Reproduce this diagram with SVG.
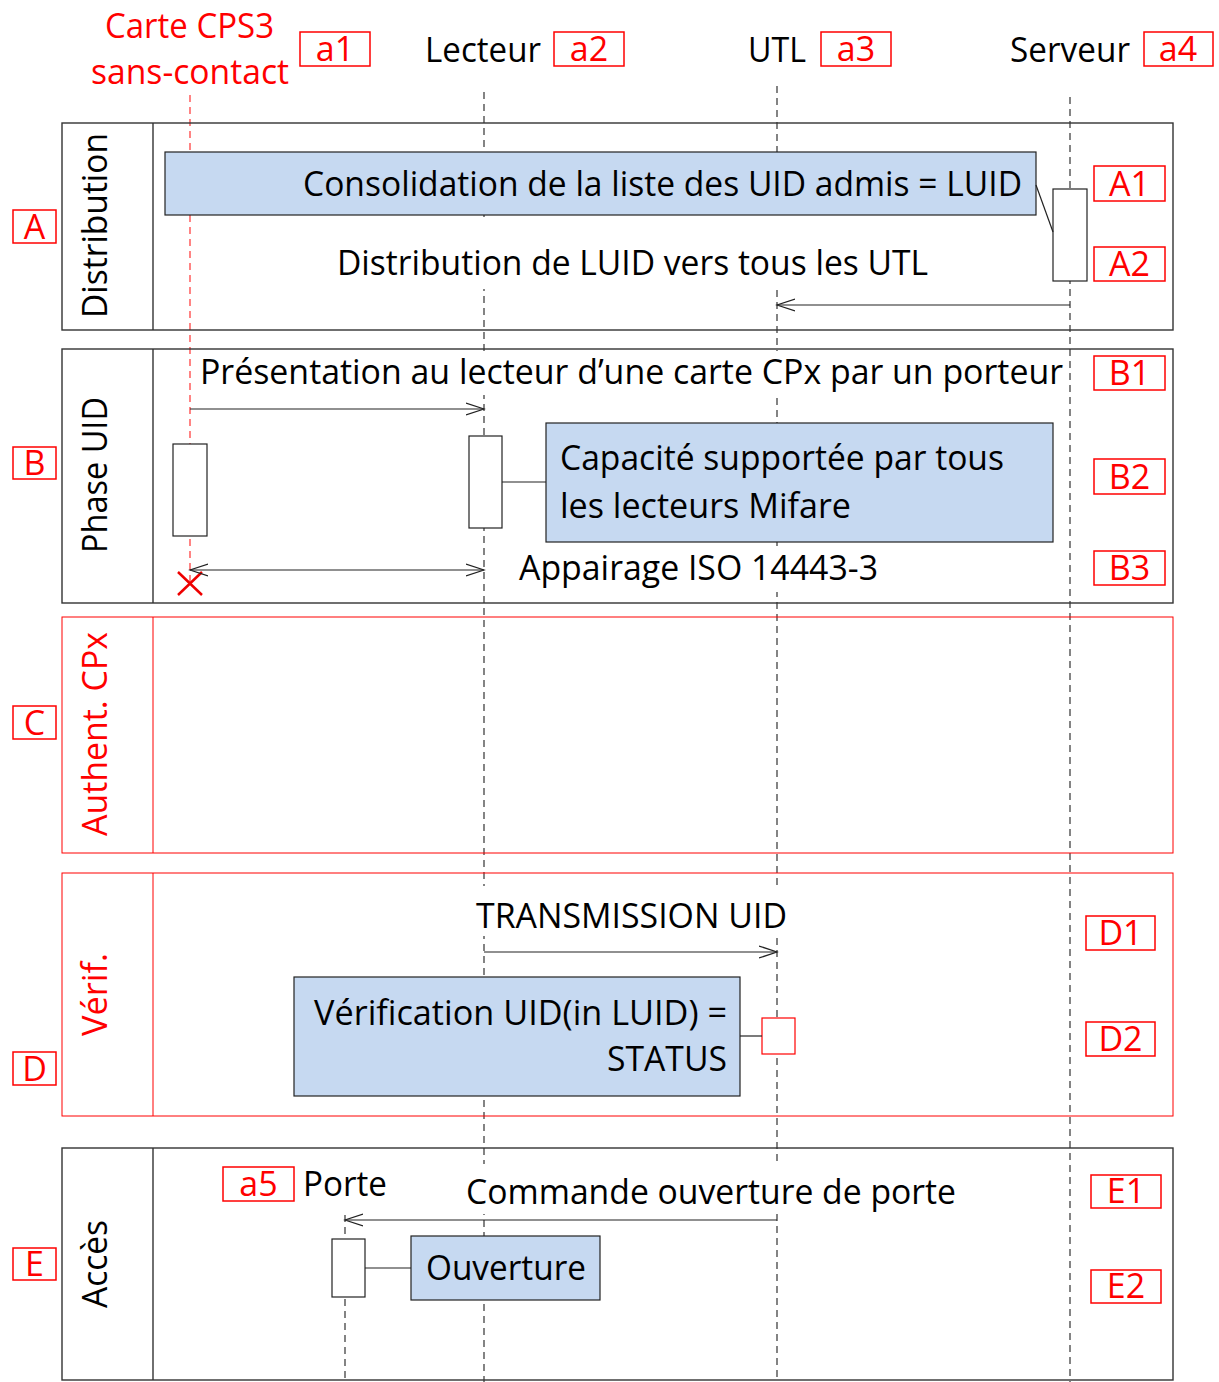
<svg xmlns="http://www.w3.org/2000/svg" width="1219" height="1382" viewBox="0 0 1219 1382">
<defs>
<style>
.t{font-family:"Open Sans","Liberation Sans",sans-serif;font-size:34px;fill:#000}
.r{fill:#f00}
.bg{fill:#fff;stroke:none}
.lb{fill:none;stroke:#f00;stroke-width:1.5}
.fr{fill:none;stroke:#333;stroke-width:1.4}
.frr{fill:none;stroke:#f00;stroke-width:1}
.ll{stroke:#333;stroke-dasharray:7 5;stroke-width:1.2;fill:none}
.llr{stroke:#f33;stroke-dasharray:7 5;stroke-width:1.2;fill:none}
.act{fill:#fff;stroke:#222;stroke-width:1.2}
.blue{fill:#c6d9f1;stroke:#222;stroke-width:1.2}
.msg{stroke:#222;stroke-width:1.2;fill:none}
</style>
<marker id="ah" markerUnits="userSpaceOnUse" markerWidth="20" markerHeight="14" refX="18" refY="7" orient="auto-start-reverse">
<path d="M0,1 L18,7 L0,13" fill="none" stroke="#222" stroke-width="1.2"/>
</marker>
</defs>
<rect width="1219" height="1382" fill="#fff"/>

<g id="lifelines">
<line class="llr" x1="190" y1="95" x2="190" y2="583"/>
<line class="ll" x1="484" y1="92" x2="484" y2="1382"/>
<line class="ll" x1="777" y1="86" x2="777" y2="1382"/>
<line class="ll" x1="1070" y1="97" x2="1070" y2="1382"/>
<line class="ll" x1="345" y1="1215" x2="345" y2="1382"/>
</g>

<g id="header">
<text class="t r" x="105" y="38" textLength="169" lengthAdjust="spacingAndGlyphs">Carte CPS3</text>
<text class="t r" x="91" y="84" textLength="198" lengthAdjust="spacingAndGlyphs">sans-contact</text>
<rect class="lb" x="300" y="32" width="70" height="34"/>
<text class="t r" x="335" y="61" text-anchor="middle">a1</text>
<text class="t" x="425" y="62" textLength="116" lengthAdjust="spacingAndGlyphs">Lecteur</text>
<rect class="lb" x="554" y="32" width="70" height="34"/>
<text class="t r" x="589" y="61" text-anchor="middle">a2</text>
<text class="t" x="748" y="62" textLength="58" lengthAdjust="spacingAndGlyphs">UTL</text>
<rect class="lb" x="821" y="32" width="70" height="34"/>
<text class="t r" x="856" y="61" text-anchor="middle">a3</text>
<text class="t" x="1010" y="62" textLength="120" lengthAdjust="spacingAndGlyphs">Serveur</text>
<rect class="lb" x="1144" y="32" width="69" height="34"/>
<text class="t r" x="1178" y="61" text-anchor="middle">a4</text>
</g>

<g id="frameA">
<rect class="fr" x="62" y="123" width="1111" height="207"/>
<line class="fr" x1="153" y1="123" x2="153" y2="330"/>
<text class="t" transform="translate(107,318) rotate(-90)" textLength="185" lengthAdjust="spacingAndGlyphs">Distribution</text>
<rect class="lb" x="13" y="210" width="43" height="33"/>
<text class="t r" x="34.5" y="239" text-anchor="middle">A</text>
<rect class="lb" x="1094" y="166" width="71" height="35"/>
<text class="t r" x="1129.5" y="196" text-anchor="middle">A1</text>
<rect class="lb" x="1094" y="247" width="71" height="34"/>
<text class="t r" x="1129.5" y="276" text-anchor="middle">A2</text>
</g>
<g id="nodeA-consolidation">
<rect class="blue" x="165" y="152" width="871" height="63"/>
<text class="t" x="303" y="196" textLength="719" lengthAdjust="spacingAndGlyphs">Consolidation de la liste des UID admis = LUID</text>
</g>
<g id="nodeA-act">
<rect class="act" x="1053" y="189" width="34" height="92"/>
</g>
<rect class="bg" x="330" y="217" width="605" height="72"/>
<text class="t" x="337" y="275" textLength="591" lengthAdjust="spacingAndGlyphs">Distribution de LUID vers tous les UTL</text>

<g id="frameB">
<rect class="fr" x="62" y="349" width="1111" height="254"/>
<line class="fr" x1="153" y1="349" x2="153" y2="603"/>
<text class="t" transform="translate(107,553) rotate(-90)" textLength="156" lengthAdjust="spacingAndGlyphs">Phase UID</text>
<rect class="lb" x="13" y="447" width="43" height="32"/>
<text class="t r" x="34.5" y="475" text-anchor="middle">B</text>
<rect class="lb" x="1094" y="356" width="71" height="34"/>
<text class="t r" x="1129.5" y="385" text-anchor="middle">B1</text>
<rect class="lb" x="1094" y="459" width="71" height="35"/>
<text class="t r" x="1129.5" y="489" text-anchor="middle">B2</text>
<rect class="lb" x="1094" y="551" width="71" height="34"/>
<text class="t r" x="1129.5" y="580" text-anchor="middle">B3</text>
</g>
<rect class="bg" x="196" y="351" width="871" height="44"/>
<text class="t" x="200" y="384" textLength="863" lengthAdjust="spacingAndGlyphs">Présentation au lecteur d’une carte CPx par un porteur</text>
<g id="nodeB-card-act"><rect class="act" x="173" y="444" width="34" height="92"/></g>
<g id="nodeB-reader-act"><rect class="act" x="469" y="436" width="33" height="92"/></g>
<g id="nodeB-capacite">
<rect class="blue" x="546" y="423" width="507" height="119"/>
<text class="t" x="560" y="470" textLength="444" lengthAdjust="spacingAndGlyphs">Capacité supportée par tous</text>
<text class="t" x="560" y="518" textLength="291" lengthAdjust="spacingAndGlyphs">les lecteurs Mifare</text>
</g>
<rect class="bg" x="514" y="546" width="369" height="46"/>
<text class="t" x="519" y="580" textLength="359" lengthAdjust="spacingAndGlyphs">Appairage ISO 14443-3</text>
<g id="nodeB-destroy">
<path d="M178,572 L202,595 M178,595 L202,572" stroke="#e00" stroke-width="2.5" fill="none"/>
</g>

<g id="frameC">
<rect class="frr" x="62" y="617" width="1111" height="236"/>
<line class="frr" x1="153" y1="617" x2="153" y2="853"/>
<text class="t r" transform="translate(107,836) rotate(-90)" textLength="204" lengthAdjust="spacingAndGlyphs">Authent. CPx</text>
<rect class="lb" x="13" y="706" width="43" height="33"/>
<text class="t r" x="34.5" y="735" text-anchor="middle">C</text>
</g>

<g id="frameD">
<rect class="frr" x="62" y="873" width="1111" height="243"/>
<line class="frr" x1="153" y1="873" x2="153" y2="1116"/>
<text class="t r" transform="translate(107,1036) rotate(-90)" textLength="83" lengthAdjust="spacingAndGlyphs">Vérif.</text>
<rect class="lb" x="13" y="1052" width="43" height="33"/>
<text class="t r" x="34.5" y="1081" text-anchor="middle">D</text>
<rect class="lb" x="1086" y="916" width="69" height="34"/>
<text class="t r" x="1120.5" y="945" text-anchor="middle">D1</text>
<rect class="lb" x="1086" y="1022" width="69" height="34"/>
<text class="t r" x="1120.5" y="1051" text-anchor="middle">D2</text>
</g>
<rect class="bg" x="470" y="886" width="323" height="50"/>
<text class="t" x="476" y="928" textLength="311" lengthAdjust="spacingAndGlyphs">TRANSMISSION UID</text>
<g id="nodeD-verif">
<rect class="blue" x="294" y="977" width="446" height="119"/>
<text class="t" x="314" y="1025" textLength="413" lengthAdjust="spacingAndGlyphs">Vérification UID(in LUID) =</text>
<text class="t" x="607" y="1071" textLength="120" lengthAdjust="spacingAndGlyphs">STATUS</text>
</g>
<g id="nodeD-utl-act"><rect x="762" y="1018" width="33" height="36" fill="#fff" stroke="#f00" stroke-width="1.2"/></g>

<g id="frameE">
<rect class="fr" x="62" y="1148" width="1111" height="232"/>
<line class="fr" x1="153" y1="1148" x2="153" y2="1380"/>
<text class="t" transform="translate(107,1308) rotate(-90)" textLength="88" lengthAdjust="spacingAndGlyphs">Accès</text>
<rect class="lb" x="13" y="1248" width="43" height="32"/>
<text class="t r" x="34.5" y="1276" text-anchor="middle">E</text>
<rect class="lb" x="1091" y="1175" width="70" height="33"/>
<text class="t r" x="1126" y="1203" text-anchor="middle">E1</text>
<rect class="lb" x="1091" y="1270" width="70" height="33"/>
<text class="t r" x="1126" y="1298" text-anchor="middle">E2</text>
</g>
<g id="nodeE-porte">
<rect class="lb" x="223" y="1167" width="71" height="34"/>
<text class="t r" x="258.5" y="1196" text-anchor="middle">a5</text>
<text class="t" x="303" y="1196" textLength="84" lengthAdjust="spacingAndGlyphs">Porte</text>
</g>
<rect class="bg" x="460" y="1164" width="502" height="50"/>
<text class="t" x="466" y="1204" textLength="490" lengthAdjust="spacingAndGlyphs">Commande ouverture de porte</text>
<g id="nodeE-porte-act"><rect class="act" x="332" y="1239" width="33" height="58"/></g>
<g id="nodeE-ouverture">
<rect class="blue" x="411" y="1236" width="189" height="64"/>
<text class="t" x="426" y="1280" textLength="160" lengthAdjust="spacingAndGlyphs">Ouverture</text>
</g>

<g id="connectors">
<line class="msg" x1="1036" y1="185" x2="1053" y2="232"/>
<line class="msg" x1="1070" y1="305" x2="777" y2="305" marker-end="url(#ah)"/>
<line class="msg" x1="190" y1="409" x2="484" y2="409" marker-end="url(#ah)"/>
<line class="msg" x1="502" y1="482" x2="546" y2="482"/>
<line class="msg" x1="190" y1="570" x2="484" y2="570" marker-start="url(#ah)" marker-end="url(#ah)"/>
<line class="msg" x1="484" y1="952" x2="777" y2="952" marker-end="url(#ah)"/>
<line class="msg" x1="740" y1="1036" x2="762" y2="1036"/>
<line class="msg" x1="777" y1="1220" x2="345" y2="1220" marker-end="url(#ah)"/>
<line class="msg" x1="365" y1="1268" x2="411" y2="1268"/>
</g>
</svg>
